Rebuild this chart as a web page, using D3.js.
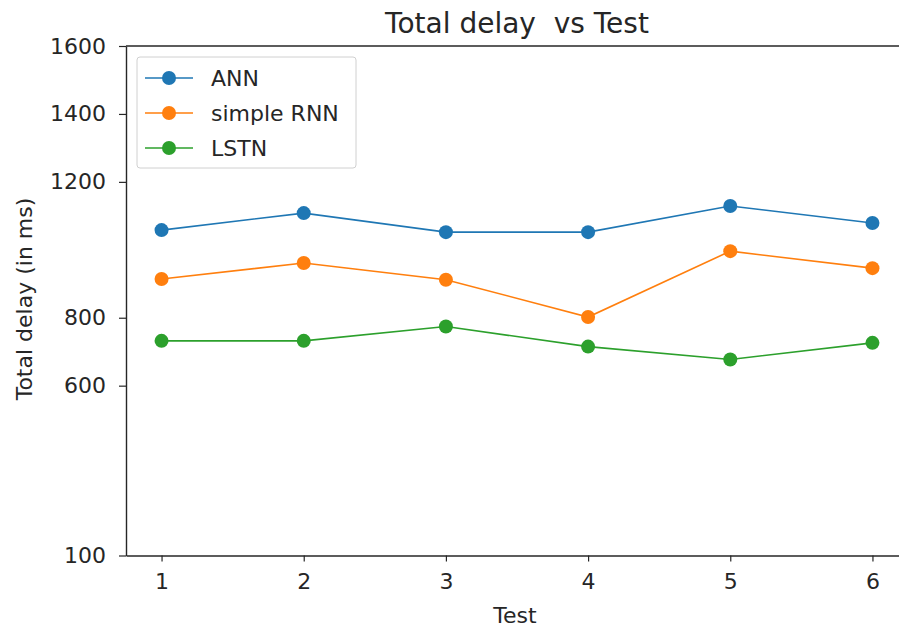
<!DOCTYPE html>
<html>
<head>
<meta charset="utf-8">
<script src="https://cdn.jsdelivr.net/npm/d3@7"></script>
<style>
  html, body { margin: 0; padding: 0; background: #fff; }
  svg { display: block; font-family: "DejaVu Sans", sans-serif; }
</style>
</head>
<body>
<svg id="chart" width="899" height="628"></svg>
<script>
const tests = [1, 2, 3, 4, 5, 6];
const annValues = [1058, 1108, 1052, 1052, 1129, 1079];
const rnnValues = [914, 961, 912, 802, 996, 946];
const lstnValues = [732, 732, 774, 715, 677, 726];
const seriesNames = ["ANN", "simple RNN", "LSTN"];
const seriesColors = ["#1f77b4", "#ff7f0e", "#2ca02c"];
const yTicks = [100, 600, 800, 1200, 1400, 1600];
const xTicks = [1, 2, 3, 4, 5, 6];
const titleText = "Total delay  vs Test";
const xLabel = "Test";
const yLabel = "Total delay (in ms)";

const series = [annValues, rnnValues, lstnValues].map((vals, i) => ({
  name: seriesNames[i], color: seriesColors[i],
  points: tests.map((t, j) => ({ x: t, y: vals[j] }))
}));

const svg = d3.select("#chart");
const mLeft = 126, mRight = 908, mTop = 46, mBottom = 555.5;

const x = d3.scaleLinear().domain([0.75, 6.25]).range([mLeft, mRight]);
const y = d3.scaleLinear().domain([100, 1600]).range([mBottom, mTop]);

// Axes
const axisColor = "#262626";
const xAxis = svg.append("g").attr("transform", `translate(0,${mBottom})`)
  .call(d3.axisBottom(x).tickValues(xTicks).tickFormat(d3.format("d")).tickSize(6).tickPadding(12).tickSizeOuter(0));
const yAxis = svg.append("g").attr("transform", `translate(${mLeft},0)`)
  .call(d3.axisLeft(y).tickValues(yTicks).tickFormat(d3.format("d")).tickSize(7).tickPadding(13).tickSizeOuter(0));
[xAxis, yAxis].forEach(g => {
  g.selectAll("path.domain").attr("stroke", axisColor).attr("stroke-width", 1.4);
  g.selectAll(".tick line").attr("stroke", axisColor).attr("stroke-width", 1.2);
  g.selectAll(".tick text").attr("fill", "#262626").style("font-size", "22px")
   .style("font-family", "'DejaVu Sans', sans-serif");
});
// top spine
svg.append("line").attr("x1", mLeft).attr("x2", mRight).attr("y1", mTop).attr("y2", mTop)
  .attr("stroke", axisColor).attr("stroke-width", 1.4);

// Lines and markers
const line = d3.line().x(d => x(d.x)).y(d => y(d.y));
series.forEach(s => {
  svg.append("path").datum(s.points).attr("d", line)
    .attr("fill", "none").attr("stroke", s.color).attr("stroke-width", 1.6);
  svg.selectAll(null).data(s.points).enter().append("circle")
    .attr("cx", d => x(d.x)).attr("cy", d => y(d.y)).attr("r", 7)
    .attr("fill", s.color);
});

// Title and labels
svg.append("text").attr("x", 517).attr("y", 33)
  .attr("text-anchor", "middle").attr("fill", "#262626")
  .style("font-size", "28px").style("white-space", "pre").attr("xml:space", "preserve")
  .text(titleText);
svg.append("text").attr("x", 515).attr("y", 623)
  .attr("text-anchor", "middle").attr("fill", "#262626").style("font-size", "22px")
  .text(xLabel);
svg.append("text").attr("transform", `translate(32,299) rotate(-90)`)
  .attr("text-anchor", "middle").attr("fill", "#262626").style("font-size", "22px")
  .text(yLabel);

// Legend
const lg = svg.append("g");
lg.append("rect").attr("x", 137).attr("y", 57).attr("width", 219).attr("height", 111)
  .attr("rx", 3).attr("fill", "#fff").attr("fill-opacity", 0.8)
  .attr("stroke", "#d0d0d0").attr("stroke-width", 1);
series.forEach((s, i) => {
  const cy = 78 + i * 35;
  lg.append("line").attr("x1", 145).attr("x2", 193).attr("y1", cy).attr("y2", cy)
    .attr("stroke", s.color).attr("stroke-width", 1.6);
  lg.append("circle").attr("cx", 169).attr("cy", cy).attr("r", 7).attr("fill", s.color);
  lg.append("text").attr("x", 211).attr("y", cy + 8).attr("fill", "#262626")
    .style("font-size", "22px").text(s.name);
});
</script>
</body>
</html>
